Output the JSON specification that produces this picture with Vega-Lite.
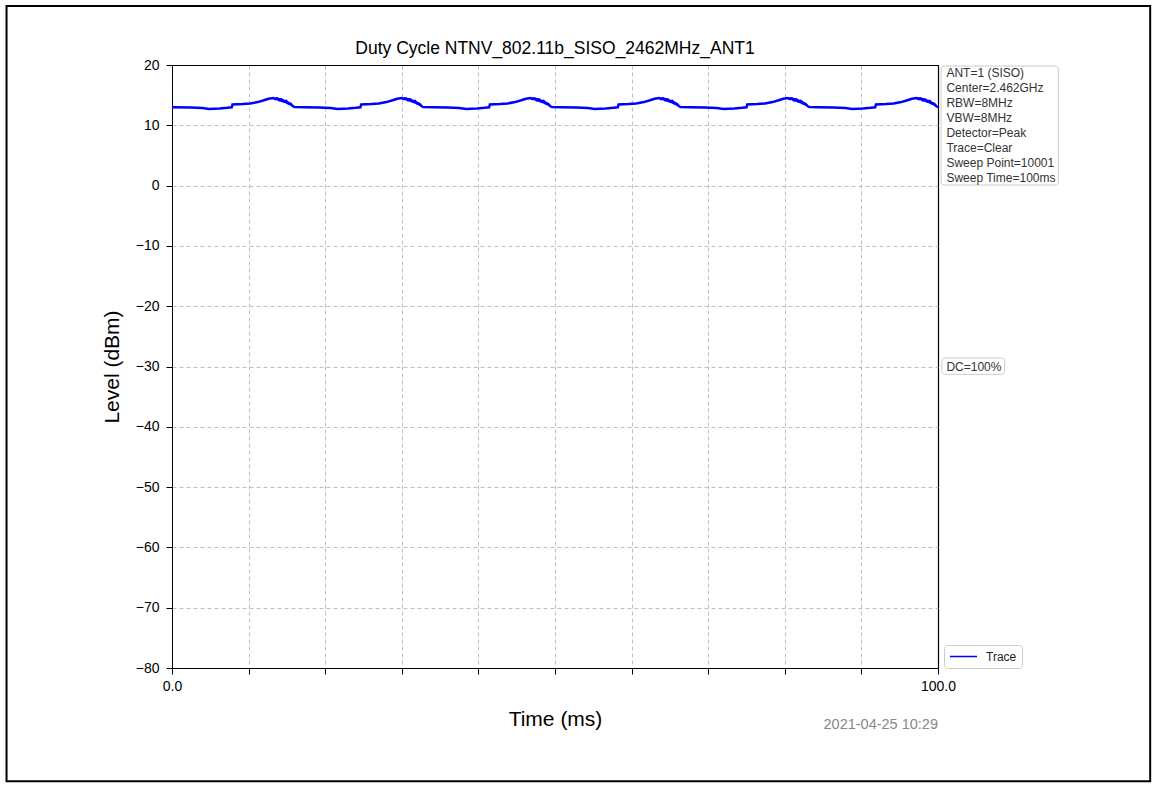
{
  "$schema": "https://vega.github.io/schema/vega-lite/v6.json",
  "width": 766,
  "height": 603,
  "autosize": {"type": "none"},
  "padding": {"left": 172, "top": 65, "right": 219, "bottom": 119},
  "background": "white",
  "title": {"text": "Duty Cycle NTNV_802.11b_SISO_2462MHz_ANT1", "fontSize": 17.5, "font": "Liberation Sans", "fontWeight": "normal", "color": "black", "offset": 0, "dy": 53, "anchor": "middle", "frame": "group"},
  "config": {
    "view": {"stroke": "black", "strokeWidth": 1},
    "font": "Liberation Sans",
    "axis": {"domainColor": "black", "tickColor": "black", "labelColor": "black", "titleColor": "black", "labelFont": "Liberation Sans", "titleFont": "Liberation Sans", "labelFontSize": 14, "titleFontSize": 21, "titleFontWeight": "normal", "tickSize": 6, "labelFlush": false}
  },
  "datasets": {
    "trace": [
      {"t": 0.0, "v": 13.0}, {"t": 2.5, "v": 12.95}, {"t": 4.0, "v": 12.85}, {"t": 4.8, "v": 12.72}, {"t": 6.2, "v": 12.8}, {"t": 7.2, "v": 12.9}, {"t": 7.8, "v": 12.98}, {"t": 7.9, "v": 13.45}, {"t": 9.2, "v": 13.52}, {"t": 10.2, "v": 13.62}, {"t": 11.2, "v": 13.85}, {"t": 12.0, "v": 14.15}, {"t": 12.6, "v": 14.4}, {"t": 13.2, "v": 14.52}, {"t": 13.5, "v": 14.35}, {"t": 13.7, "v": 14.45}, {"t": 14.0, "v": 14.15}, {"t": 14.3, "v": 14.3}, {"t": 14.6, "v": 13.95}, {"t": 14.9, "v": 14.05}, {"t": 15.2, "v": 13.65}, {"t": 15.5, "v": 13.55}, {"t": 15.8, "v": 13.15}, {"t": 16.0, "v": 13.02}, {"t": 17.2, "v": 13.0}, {"t": 19.2, "v": 12.95}, {"t": 20.7, "v": 12.88},
      {"t": 21.6, "v": 12.72}, {"t": 23.0, "v": 12.8}, {"t": 24.0, "v": 12.9}, {"t": 24.6, "v": 12.98}, {"t": 24.7, "v": 13.45}, {"t": 26.0, "v": 13.52}, {"t": 27.0, "v": 13.62}, {"t": 28.0, "v": 13.85}, {"t": 28.8, "v": 14.15}, {"t": 29.4, "v": 14.4}, {"t": 30.0, "v": 14.52}, {"t": 30.3, "v": 14.35}, {"t": 30.5, "v": 14.45}, {"t": 30.8, "v": 14.15}, {"t": 31.1, "v": 14.3}, {"t": 31.4, "v": 13.95}, {"t": 31.7, "v": 14.05}, {"t": 32.0, "v": 13.65}, {"t": 32.3, "v": 13.55}, {"t": 32.6, "v": 13.15}, {"t": 32.8, "v": 13.02}, {"t": 34.0, "v": 13.0}, {"t": 36.0, "v": 12.95}, {"t": 37.5, "v": 12.88},
      {"t": 38.4, "v": 12.72}, {"t": 39.8, "v": 12.8}, {"t": 40.8, "v": 12.9}, {"t": 41.4, "v": 12.98}, {"t": 41.5, "v": 13.45}, {"t": 42.8, "v": 13.52}, {"t": 43.8, "v": 13.62}, {"t": 44.8, "v": 13.85}, {"t": 45.6, "v": 14.15}, {"t": 46.2, "v": 14.4}, {"t": 46.8, "v": 14.52}, {"t": 47.1, "v": 14.35}, {"t": 47.3, "v": 14.45}, {"t": 47.6, "v": 14.15}, {"t": 47.9, "v": 14.3}, {"t": 48.2, "v": 13.95}, {"t": 48.5, "v": 14.05}, {"t": 48.8, "v": 13.65}, {"t": 49.1, "v": 13.55}, {"t": 49.4, "v": 13.15}, {"t": 49.6, "v": 13.02}, {"t": 50.8, "v": 13.0}, {"t": 52.8, "v": 12.95}, {"t": 54.3, "v": 12.88},
      {"t": 55.2, "v": 12.72}, {"t": 56.6, "v": 12.8}, {"t": 57.6, "v": 12.9}, {"t": 58.2, "v": 12.98}, {"t": 58.3, "v": 13.45}, {"t": 59.6, "v": 13.52}, {"t": 60.6, "v": 13.62}, {"t": 61.6, "v": 13.85}, {"t": 62.4, "v": 14.15}, {"t": 63.0, "v": 14.4}, {"t": 63.6, "v": 14.52}, {"t": 63.9, "v": 14.35}, {"t": 64.1, "v": 14.45}, {"t": 64.4, "v": 14.15}, {"t": 64.7, "v": 14.3}, {"t": 65.0, "v": 13.95}, {"t": 65.3, "v": 14.05}, {"t": 65.6, "v": 13.65}, {"t": 65.9, "v": 13.55}, {"t": 66.2, "v": 13.15}, {"t": 66.4, "v": 13.02}, {"t": 67.6, "v": 13.0}, {"t": 69.6, "v": 12.95}, {"t": 71.1, "v": 12.88},
      {"t": 72.0, "v": 12.72}, {"t": 73.4, "v": 12.8}, {"t": 74.4, "v": 12.9}, {"t": 75.0, "v": 12.98}, {"t": 75.1, "v": 13.45}, {"t": 76.4, "v": 13.52}, {"t": 77.4, "v": 13.62}, {"t": 78.4, "v": 13.85}, {"t": 79.2, "v": 14.15}, {"t": 79.8, "v": 14.4}, {"t": 80.4, "v": 14.52}, {"t": 80.7, "v": 14.35}, {"t": 80.9, "v": 14.45}, {"t": 81.2, "v": 14.15}, {"t": 81.5, "v": 14.3}, {"t": 81.8, "v": 13.95}, {"t": 82.1, "v": 14.05}, {"t": 82.4, "v": 13.65}, {"t": 82.7, "v": 13.55}, {"t": 83.0, "v": 13.15}, {"t": 83.2, "v": 13.02}, {"t": 84.4, "v": 13.0}, {"t": 86.4, "v": 12.95}, {"t": 87.9, "v": 12.88},
      {"t": 88.8, "v": 12.72}, {"t": 90.2, "v": 12.8}, {"t": 91.2, "v": 12.9}, {"t": 91.8, "v": 12.98}, {"t": 91.9, "v": 13.45}, {"t": 93.2, "v": 13.52}, {"t": 94.2, "v": 13.62}, {"t": 95.2, "v": 13.85}, {"t": 96.0, "v": 14.15}, {"t": 96.6, "v": 14.4}, {"t": 97.2, "v": 14.52}, {"t": 97.5, "v": 14.35}, {"t": 97.7, "v": 14.45}, {"t": 98.0, "v": 14.15}, {"t": 98.3, "v": 14.3}, {"t": 98.6, "v": 13.95}, {"t": 98.9, "v": 14.05}, {"t": 99.2, "v": 13.65}, {"t": 99.5, "v": 13.55}, {"t": 99.8, "v": 13.15}, {"t": 100.0, "v": 13.0}
    ],
    "band": [
      {"p": 1, "t": 13.4, "lo": 14.35, "hi": 14.65}, {"p": 1, "t": 13.8, "lo": 14.1, "hi": 14.6}, {"p": 1, "t": 14.2, "lo": 13.9, "hi": 14.5}, {"p": 1, "t": 14.7, "lo": 13.7, "hi": 14.25}, {"p": 1, "t": 15.2, "lo": 13.4, "hi": 13.95}, {"p": 1, "t": 15.6, "lo": 13.15, "hi": 13.65}, {"p": 1, "t": 15.9, "lo": 12.95, "hi": 13.2},
      {"p": 2, "t": 30.2, "lo": 14.35, "hi": 14.65}, {"p": 2, "t": 30.6, "lo": 14.1, "hi": 14.6}, {"p": 2, "t": 31.0, "lo": 13.9, "hi": 14.5}, {"p": 2, "t": 31.5, "lo": 13.7, "hi": 14.25}, {"p": 2, "t": 32.0, "lo": 13.4, "hi": 13.95}, {"p": 2, "t": 32.4, "lo": 13.15, "hi": 13.65}, {"p": 2, "t": 32.7, "lo": 12.95, "hi": 13.2},
      {"p": 3, "t": 47.0, "lo": 14.35, "hi": 14.65}, {"p": 3, "t": 47.4, "lo": 14.1, "hi": 14.6}, {"p": 3, "t": 47.8, "lo": 13.9, "hi": 14.5}, {"p": 3, "t": 48.3, "lo": 13.7, "hi": 14.25}, {"p": 3, "t": 48.8, "lo": 13.4, "hi": 13.95}, {"p": 3, "t": 49.2, "lo": 13.15, "hi": 13.65}, {"p": 3, "t": 49.5, "lo": 12.95, "hi": 13.2},
      {"p": 4, "t": 63.8, "lo": 14.35, "hi": 14.65}, {"p": 4, "t": 64.2, "lo": 14.1, "hi": 14.6}, {"p": 4, "t": 64.6, "lo": 13.9, "hi": 14.5}, {"p": 4, "t": 65.1, "lo": 13.7, "hi": 14.25}, {"p": 4, "t": 65.6, "lo": 13.4, "hi": 13.95}, {"p": 4, "t": 66.0, "lo": 13.15, "hi": 13.65}, {"p": 4, "t": 66.3, "lo": 12.95, "hi": 13.2},
      {"p": 5, "t": 80.6, "lo": 14.35, "hi": 14.65}, {"p": 5, "t": 81.0, "lo": 14.1, "hi": 14.6}, {"p": 5, "t": 81.4, "lo": 13.9, "hi": 14.5}, {"p": 5, "t": 81.9, "lo": 13.7, "hi": 14.25}, {"p": 5, "t": 82.4, "lo": 13.4, "hi": 13.95}, {"p": 5, "t": 82.8, "lo": 13.15, "hi": 13.65}, {"p": 5, "t": 83.1, "lo": 12.95, "hi": 13.2},
      {"p": 6, "t": 97.4, "lo": 14.35, "hi": 14.65}, {"p": 6, "t": 97.8, "lo": 14.1, "hi": 14.6}, {"p": 6, "t": 98.2, "lo": 13.9, "hi": 14.5}, {"p": 6, "t": 98.7, "lo": 13.7, "hi": 14.25}, {"p": 6, "t": 99.2, "lo": 13.4, "hi": 13.95}, {"p": 6, "t": 99.6, "lo": 13.15, "hi": 13.65}, {"p": 6, "t": 99.9, "lo": 12.9, "hi": 13.2}
    ],
    "boxes": [
      {"name": "info", "x1": 100.4, "x2": 115.7, "y1": 19.83, "y2": 0.1},
      {"name": "dc", "x1": 100.5, "x2": 108.7, "y1": -28.6, "y2": -31.3}
    ],
    "frame": [
      {"x1": -21.6, "x2": 127.7, "y1": 29.8, "y2": -98.8}
    ],
    "notes": [
      {"t": 101.1, "level": 18.62, "label": "ANT=1 (SISO)"},
      {"t": 101.1, "level": 16.13, "label": "Center=2.462GHz"},
      {"t": 101.1, "level": 13.64, "label": "RBW=8MHz"},
      {"t": 101.1, "level": 11.16, "label": "VBW=8MHz"},
      {"t": 101.1, "level": 8.67, "label": "Detector=Peak"},
      {"t": 101.1, "level": 6.18, "label": "Trace=Clear"},
      {"t": 101.1, "level": 3.69, "label": "Sweep Point=10001"},
      {"t": 101.1, "level": 1.21, "label": "Sweep Time=100ms"},
      {"t": 101.1, "level": -30.0, "label": "DC=100%"}
    ],
    "stamp": [
      {"t": 100.0, "level": -89.5, "label": "2021-04-25 10:29"}
    ]
  },
  "layer": [
    {
      "data": {"name": "frame"},
      "mark": {"type": "rect", "fill": null, "fillOpacity": 0, "stroke": "black", "strokeWidth": 2, "clip": false},
      "encoding": {
        "x": {"field": "x1", "type": "quantitative", "scale": {"domain": [0, 100], "nice": false, "zero": false}, "axis": {"title": "Time (ms)", "values": [0, 10, 20, 30, 40, 50, 60, 70, 80, 90, 100], "labelExpr": "datum.value == 0 || datum.value == 100 ? format(datum.value, '.1f') : ''", "labelPadding": 5, "titlePadding": 15, "grid": true, "gridColor": {"condition": {"test": "datum.value == 100", "value": "black"}, "value": "#b0b0b0"}, "gridDash": {"condition": {"test": "datum.value == 100", "value": []}, "value": [4, 3]}, "gridWidth": {"condition": {"test": "datum.value == 100", "value": 1.2}, "value": 0.8}}},
        "x2": {"field": "x2"},
        "y": {"field": "y1", "type": "quantitative", "scale": {"domain": [-80, 20], "nice": false, "zero": false}, "axis": {"title": "Level (dBm)", "values": [-80, -70, -60, -50, -40, -30, -20, -10, 0, 10, 20], "labelPadding": 7, "titlePadding": 13, "grid": true, "gridColor": {"condition": {"test": "datum.value == 20", "value": "black"}, "value": "#b0b0b0"}, "gridDash": {"condition": {"test": "datum.value == 20", "value": []}, "value": [4, 3]}, "gridWidth": {"condition": {"test": "datum.value == 20", "value": 1.2}, "value": 0.8}}},
        "y2": {"field": "y2"}
      }
    },
    {
      "data": {"name": "boxes"},
      "mark": {"type": "rect", "fill": "white", "stroke": "#cccccc", "strokeWidth": 1, "cornerRadius": 3, "clip": false},
      "encoding": {
        "x": {"field": "x1", "type": "quantitative"},
        "x2": {"field": "x2"},
        "y": {"field": "y1", "type": "quantitative"},
        "y2": {"field": "y2"}
      }
    },
    {
      "data": {"name": "notes"},
      "mark": {"type": "text", "align": "left", "baseline": "middle", "fontSize": 12, "font": "Liberation Sans", "color": "#333333", "clip": false},
      "encoding": {
        "x": {"field": "t", "type": "quantitative"},
        "y": {"field": "level", "type": "quantitative"},
        "text": {"field": "label"}
      }
    },
    {
      "data": {"name": "stamp"},
      "mark": {"type": "text", "align": "right", "baseline": "middle", "fontSize": 14.5, "font": "Liberation Sans", "color": "#888888", "clip": false},
      "encoding": {
        "x": {"field": "t", "type": "quantitative"},
        "y": {"field": "level", "type": "quantitative"},
        "text": {"field": "label"}
      }
    },
    {
      "data": {"name": "band"},
      "mark": {"type": "area", "color": "#0000ff", "opacity": 1},
      "encoding": {
        "x": {"field": "t", "type": "quantitative"},
        "y": {"field": "lo", "type": "quantitative"},
        "y2": {"field": "hi"},
        "detail": {"field": "p", "type": "nominal"}
      }
    },
    {
      "data": {"name": "trace"},
      "transform": [{"calculate": "'Trace'", "as": "series"}],
      "mark": {"type": "line", "strokeWidth": 2.5},
      "encoding": {
        "x": {"field": "t", "type": "quantitative"},
        "y": {"field": "v", "type": "quantitative"},
        "color": {"field": "series", "type": "nominal", "scale": {"range": ["#0000ff"]}, "legend": {"title": null, "orient": "none", "legendX": 772, "legendY": 580, "symbolType": "stroke", "symbolSize": 730, "symbolStrokeWidth": 1.5, "clipHeight": 13, "labelFontSize": 12, "labelOffset": 8, "labelFont": "Liberation Sans", "labelColor": "#222222", "strokeColor": "#cccccc", "fillColor": "white", "cornerRadius": 3, "padding": 5}}
      }
    }
  ]
}
